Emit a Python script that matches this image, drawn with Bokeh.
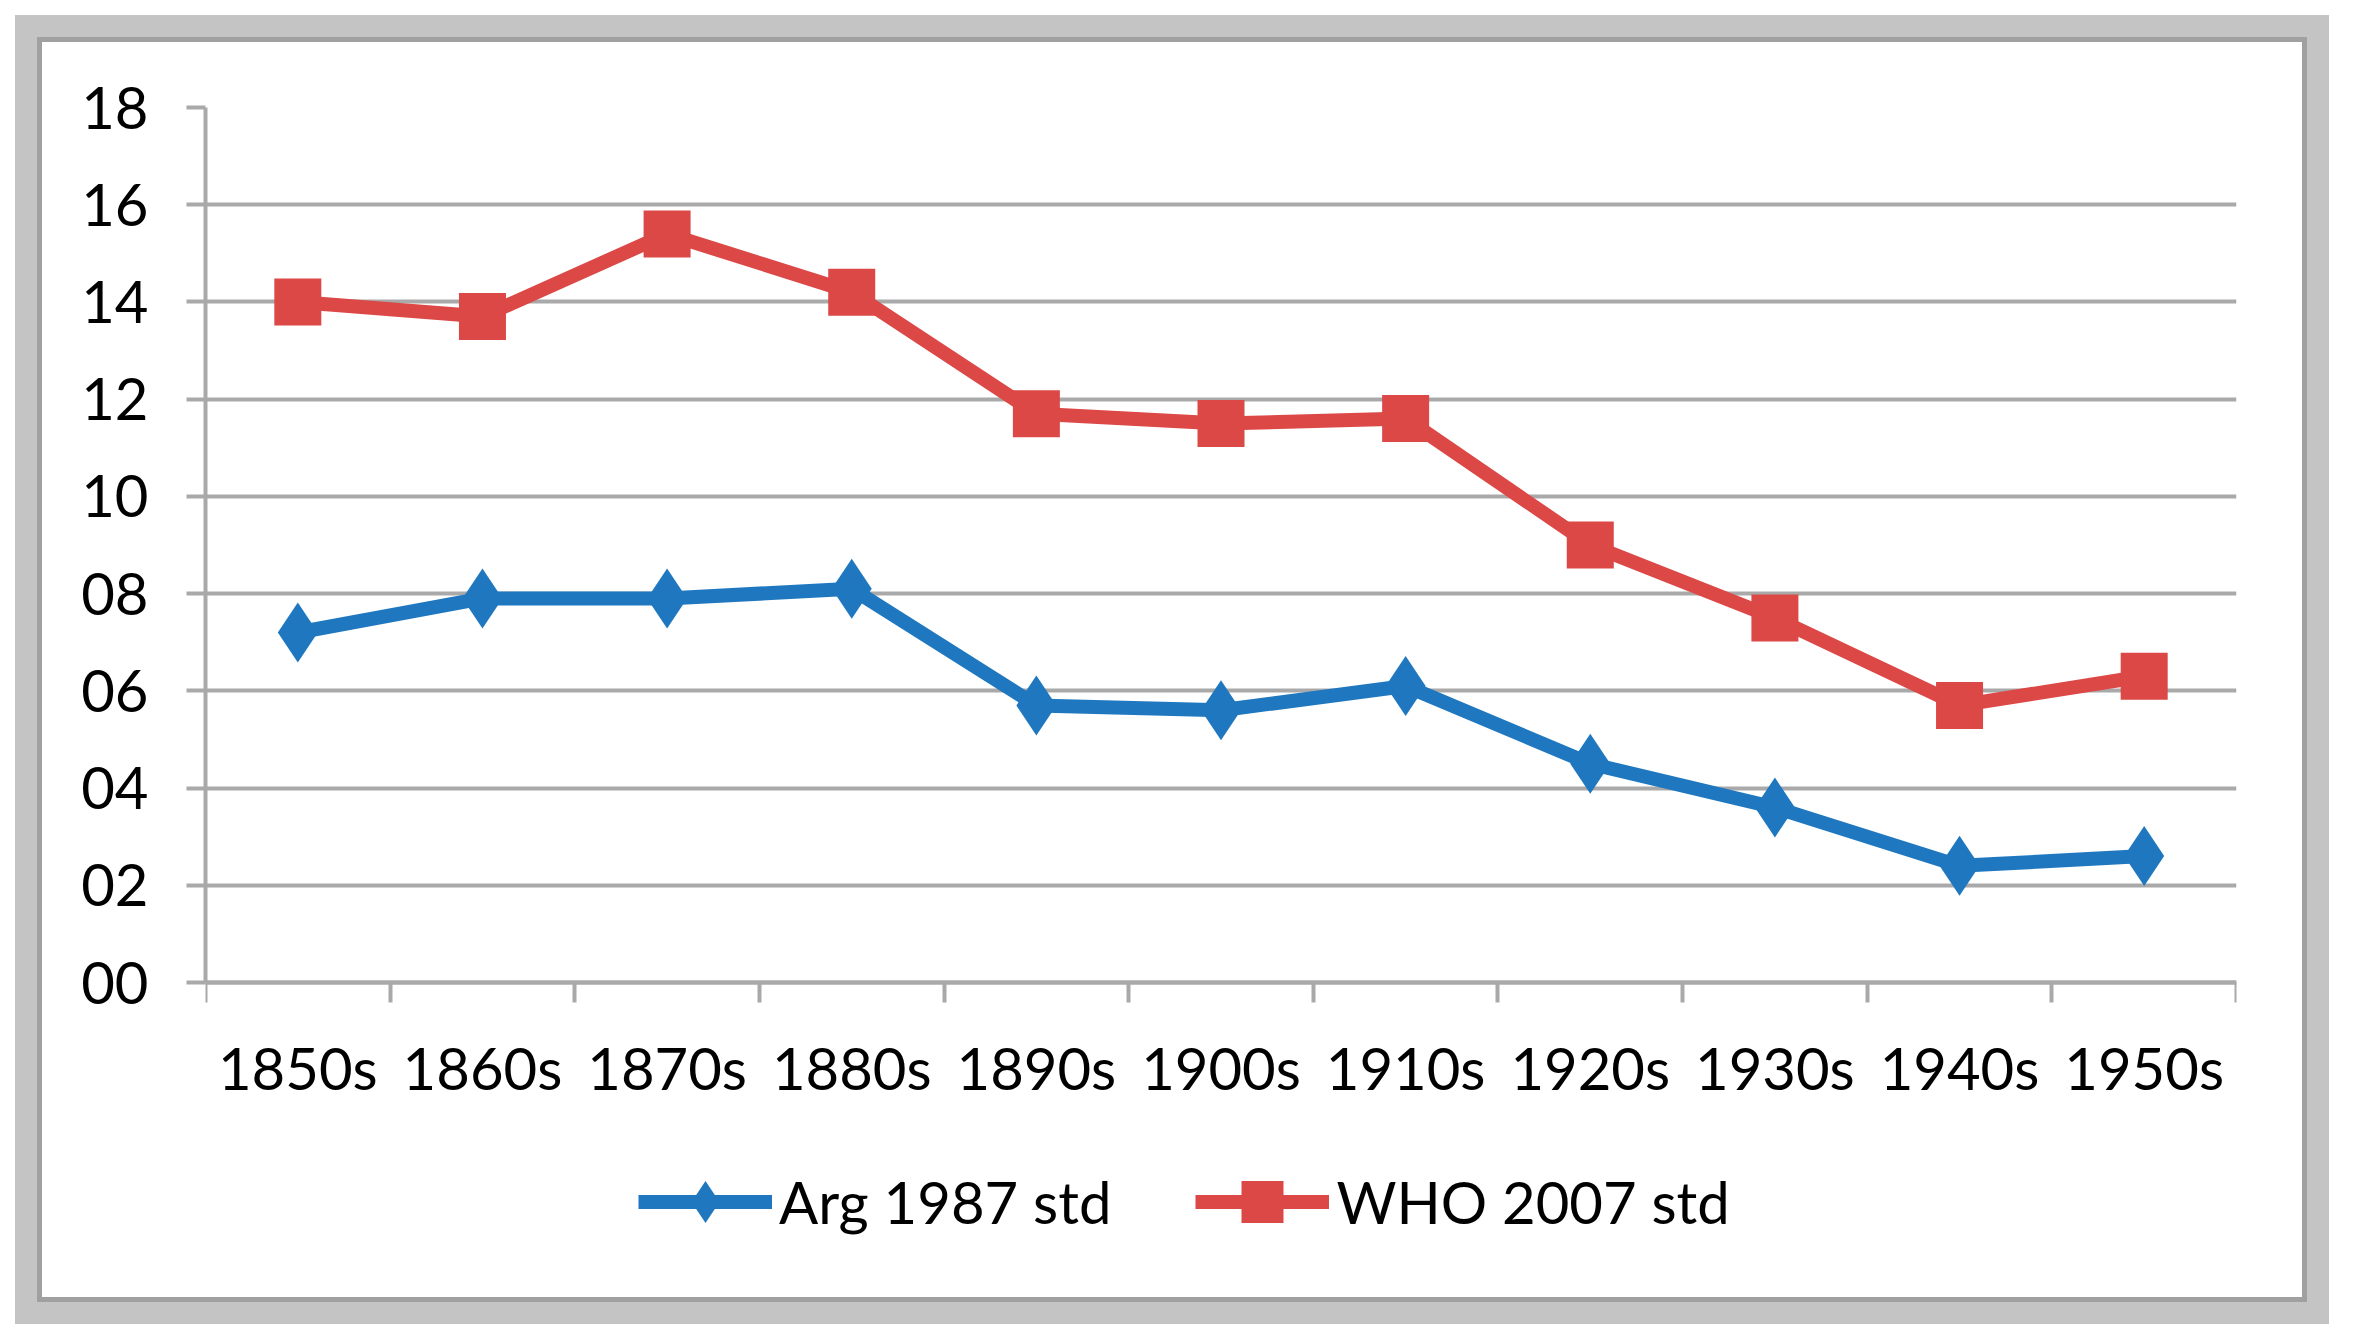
from bokeh.plotting import figure
from bokeh.models import FixedTicker, Legend, LegendItem
from bokeh.embed import file_html
from bokeh.resources import INLINE

# ---- data ----
decades = ["1850s", "1860s", "1870s", "1880s", "1890s", "1900s",
           "1910s", "1920s", "1930s", "1940s", "1950s"]
arg_1987 = [7.2, 7.9, 7.9, 8.1, 5.7, 5.6, 6.1, 4.5, 3.6, 2.4, 2.6]
who_2007 = [14.0, 13.7, 15.4, 14.2, 11.7, 11.5, 11.6, 9.0, 7.5, 5.7, 6.3]
y_ticks = [0, 2, 4, 6, 8, 10, 12, 14, 16, 18]
y_tick_labels = ["00", "02", "04", "06", "08", "10", "12", "14", "16", "18"]
series_names = ["Arg 1987 std", "WHO 2007 std"]

BLUE = "#1f78bf"
RED = "#db4846"
GRID = "#a9a9a9"
FONT = "Lato"
FSIZE = "58px"

n = len(decades)
xc = [i + 0.5 for i in range(n)]          # category centres
bounds = list(range(n + 1))               # category boundaries

# layout (pixels inside the white chart area)
W, H = 2260, 1255
TOP, LEFT, RIGHT, BOTTOM = 65, 163, 66, 10
DATA_PX = 875                              # height of the 0..18 band
frame_px = H - TOP - BOTTOM
y_max = y_ticks[-1]
y_min = -y_max * (frame_px - DATA_PX) / DATA_PX   # room below for labels + legend

p = figure(width=W, height=H, output_backend="svg", toolbar_location=None,
           x_range=(0, n), y_range=(y_min, y_max),
           min_border_left=LEFT, min_border_right=RIGHT,
           min_border_top=TOP, min_border_bottom=BOTTOM)
p.margin = (42, 0, 0, 42)
p.styles = {"box-shadow": "0 0 0 5px #a0a0a0, 0 0 0 27px #c4c4c4"}
p.outline_line_color = None
p.background_fill_color = "white"
p.border_fill_color = "white"

# grid
p.xgrid.visible = False
p.ygrid.ticker = FixedTicker(ticks=y_ticks)
p.ygrid.grid_line_color = GRID
p.ygrid.grid_line_width = 4

# y axis
ya = p.yaxis[0]
ya.ticker = FixedTicker(ticks=y_ticks)
ya.bounds = (0, y_max)
ya.major_label_overrides = dict(zip(y_ticks, y_tick_labels))
ya.axis_line_color = GRID
ya.axis_line_width = 4
ya.major_tick_line_color = GRID
ya.major_tick_line_width = 4
ya.major_tick_out = 19
ya.major_tick_in = 0
ya.minor_tick_out = 0
ya.minor_tick_in = 0
ya.major_label_standoff = 38
ya.major_label_text_font = FONT
ya.major_label_text_font_size = FSIZE
ya.major_label_text_color = "black"

# x axis, fixed at y = 0
xa = p.xaxis[0]
xa.fixed_location = 0
xa.ticker = FixedTicker(ticks=xc, minor_ticks=bounds)
xa.major_label_overrides = dict(zip(xc, decades))
xa.axis_line_color = GRID
xa.axis_line_width = 4
xa.major_tick_out = 0
xa.major_tick_in = 0
xa.minor_tick_out = 20
xa.minor_tick_in = 0
xa.minor_tick_line_color = GRID
xa.minor_tick_line_width = 4
xa.major_label_standoff = 30
xa.major_label_text_font = FONT
xa.major_label_text_font_size = FSIZE
xa.major_label_text_color = "black"

# series
bl = p.line(xc, arg_1987, line_color=BLUE, line_width=14, line_join="round")
bp = p.scatter(xc, arg_1987, marker="diamond", size=60, fill_color=BLUE, line_color=None)
rl = p.line(xc, who_2007, line_color=RED, line_width=14, line_join="round")
rp = p.scatter(xc, who_2007, marker="square", size=47, fill_color=RED, line_color=None)

legend = Legend(items=[LegendItem(label=series_names[0], renderers=[bl, bp]),
                       LegendItem(label=series_names[1], renderers=[rl, rp])],
                orientation="horizontal", location=(433, 33))
legend.margin = 0
legend.padding = 10
legend.glyph_width = 134
legend.glyph_height = 105
legend.label_standoff = 7
legend.spacing = 84
legend.border_line_color = None
legend.background_fill_alpha = 0
legend.label_text_font = FONT
legend.label_text_font_size = FSIZE
legend.label_text_color = "black"
p.add_layout(legend)

open("out.html", "w").write(file_html(p, INLINE))
